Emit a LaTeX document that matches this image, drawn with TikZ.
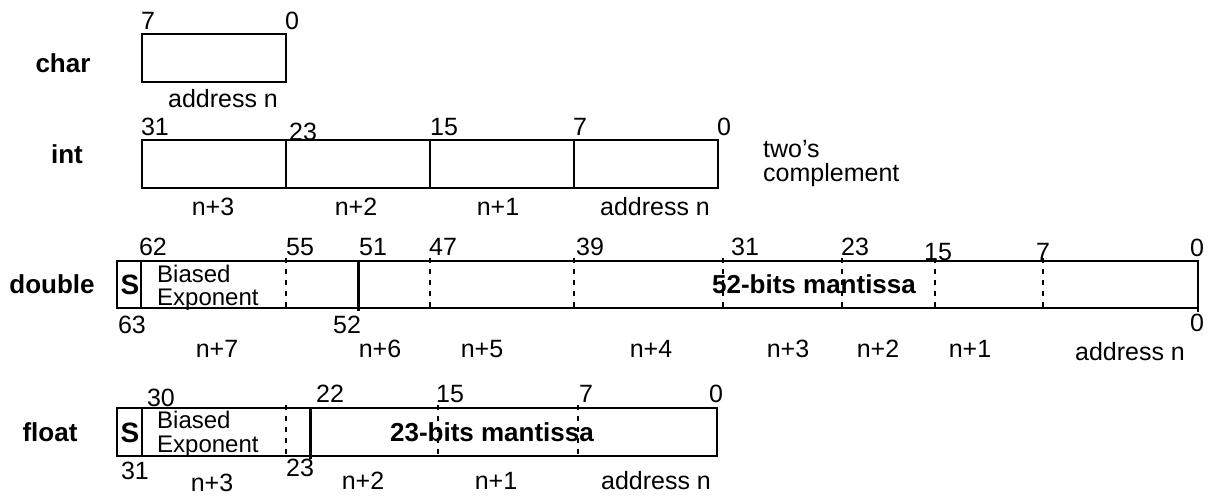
\documentclass[tikz,border=0pt]{standalone}
\usepackage{fontspec}
\setmainfont{Liberation Sans}
\begin{document}
\begin{tikzpicture}[x=1pt,y=-1pt,
  num/.style={font=\fontsize{25}{30}\selectfont, inner sep=0pt, anchor=base},
  lab/.style={font=\fontsize{25}{30}\selectfont, inner sep=0pt, anchor=base},
  tname/.style={font=\bfseries\fontsize{26}{30}\selectfont, inner sep=0pt, anchor=base},
  sgn/.style={font=\bfseries\fontsize{28}{30}\selectfont, inner sep=0pt, anchor=base},
  expo/.style={font=\fontsize{24}{24}\selectfont, inner sep=0pt, anchor=base west},
  frame/.style={line width=2pt},
  divd/.style={line width=2pt},
  divthick/.style={line width=3pt},
  dsh/.style={line width=1.8pt, dash pattern=on 5pt off 6pt}]
\useasboundingbox (0,0) rectangle (1209,495);
% ---------- char ----------
\node[tname] (nchar) at (63,72) {char};
\draw[frame] (142,34) rectangle (286,82);
\node[num] (c7) at (148,30) {7};
\node[num] (c0) at (292,30) {0};
\node[lab] (cadr) at (223,107) {address n};
% ---------- int ----------
\node[tname] (nint) at (67,163) {int};
\draw[frame] (142,140) rectangle (718,188);
\draw[divd] (286,140) -- (286,188) (430,140) -- (430,188) (574,140) -- (574,188);
\node[num] (i31) at (155,135) {31};
\node[num] (i23) at (303,140) {23};
\node[num] (i15) at (444,135) {15};
\node[num] (i7) at (580,135) {7};
\node[num] (i0) at (724,135) {0};
\node[lab] (in3) at (213,215) {n+3};
\node[lab] (in2) at (356,215) {n+2};
\node[lab] (in1) at (498,215) {n+1};
\node[lab] (iadr) at (655,215) {address n};
\node[lab, anchor=base west] (two) at (763,157) {two’s};
\node[lab, anchor=base west] (compl) at (763,181) {complement};
% ---------- double ----------
\node[tname] (ndouble) at (52,293) {double};
\node[sgn] (dS) at (130,294) {S};
\node[expo] (dB) at (157,282) {Biased};
\node[expo] (dE) at (157,305) {Exponent};
\node[tname] (dman) at (814,293) {52-bits mantissa};
\draw[frame] (117,261) rectangle (1198,308);
\draw[divd] (141,261) -- (141,308);
\draw[divthick] (358,261) -- (358,311);
\draw[divd] (1198,308) -- (1198,312);
\foreach \xx in {286,430,574,723,842,935,1043}
  \draw[dsh] (\xx,258) -- (\xx,311);
\node[num] (d62) at (153,255) {62};
\node[num] (d55) at (300,255) {55};
\node[num] (d51) at (373,255) {51};
\node[num] (d47) at (443,255) {47};
\node[num] (d39) at (590,255) {39};
\node[num] (d31) at (745,255) {31};
\node[num] (d23) at (855,255) {23};
\node[num] (d15) at (938,260) {15};
\node[num] (d7) at (1043,260) {7};
\node[num] (d0) at (1197,256) {0};
\node[num] (d63) at (132,333) {63};
\node[num] (d52) at (347,333) {52};
\node[num] (d0b) at (1197,331) {0};
\node[lab] (dn7) at (217,357) {n+7};
\node[lab] (dn6) at (380,357) {n+6};
\node[lab] (dn5) at (482,357) {n+5};
\node[lab] (dn4) at (651,357) {n+4};
\node[lab] (dn3) at (788,357) {n+3};
\node[lab] (dn2) at (878,357) {n+2};
\node[lab] (dn1) at (970,357) {n+1};
\node[lab] (dadr) at (1130,360) {address n};
% ---------- float ----------
\node[tname] (nfloat) at (50,441) {float};
\node[sgn] (fS) at (130,442) {S};
\node[expo] (fB) at (157,428) {Biased};
\node[expo] (fE) at (157,452) {Exponent};
\node[tname] (fman) at (492,441) {23-bits mantissa};
\draw[frame] (117,408) rectangle (717,456);
\draw[divd] (142,408) -- (142,456);
\draw[divthick] (310,408) -- (310,459);
\foreach \xx in {286,438,578}
  \draw[dsh] (\xx,405) -- (\xx,459);
\node[num] (f30) at (161,406) {30};
\node[num] (f22) at (330,402) {22};
\node[num] (f15) at (450,402) {15};
\node[num] (f7) at (586,402) {7};
\node[num] (f0) at (716,402) {0};
\node[num] (f31) at (135,479) {31};
\node[num] (f23) at (300,476) {23};
\node[lab] (fn3) at (212,491) {n+3};
\node[lab] (fn2) at (363,489) {n+2};
\node[lab] (fn1) at (496,489) {n+1};
\node[lab] (fadr) at (656,489) {address n};
\end{tikzpicture}
\end{document}
